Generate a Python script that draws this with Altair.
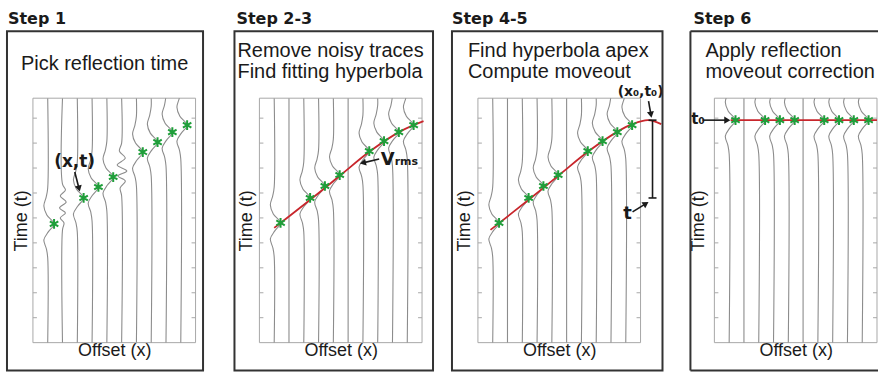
import math
import altair as alt
import pandas as pd

# ---------------- content ----------------
STEP_TITLES = ["Step 1", "Step 2-3", "Step 4-5", "Step 6"]
STEP_LINES = [
    ["Pick reflection time"],
    ["Remove noisy traces", "Find fitting hyperbola"],
    ["Find hyperbola apex", "Compute moveout"],
    ["Apply reflection", "moveout correction"],
]
X_TITLE = "Offset (x)"
Y_TITLE = "Time (t)"

TRACES = [1, 2, 3, 4, 5, 6, 7, 8, 9, 10]
# picked reflection times (s) per trace; None = no pick
PICKS_STEP1 = [1.06, None, 0.80, 0.69, 0.59, None, 0.34, 0.24, 0.14, 0.07]
PICKS_FIT = [1.05, None, 0.80, 0.68, 0.57, None, 0.33, 0.23, 0.14, 0.07]
PICKS_NMO = [0.02, None, 0.02, 0.02, 0.02, None, 0.02, 0.02, 0.02, 0.02]

# reflection wavelet (time shift from pick, trace-amplitude)
WAVELET_DT = [-0.36, -0.27, -0.18, -0.09, 0.0, 0.08, 0.16, 0.25, 0.34]
WAVELET_AMP = [0.0, -0.1, -0.26, -0.06, 0.43, 0.04, -0.26, -0.09, 0.0]

# noisy traces of step 1 (absolute time, amplitude)
NOISE_T = {2: [0.66, 0.72, 0.78, 0.84, 0.90, 0.95, 1.00, 1.05, 1.12],
           6: [0.25, 0.33, 0.40, 0.47, 0.53, 0.58, 0.63, 0.70, 0.78]}
NOISE_AMP = {2: [0.0, 0.2, -0.15, 0.25, -0.2, 0.2, -0.15, 0.1, 0.0],
             6: [0.0, -0.15, 0.25, -0.3, 0.35, -0.25, 0.25, -0.1, 0.0]}

# red curves
FIT_X = [1.0, 3.5, 5.5, 7.5, 9.5, 11.1]
FIT_T = [1.10, 0.81, 0.57, 0.33, 0.135, 0.03]
APEX_X = [0.85, 3.5, 5.5, 7.5, 9.5, 10.45, 11.5, 12.4]
APEX_T = [1.12, 0.81, 0.57, 0.33, 0.13, 0.06, 0.02, 0.06]
FLAT_X = [1.1, 11.0]
FLAT_T = [0.02, 0.02]

TIME_TICKS = [0.0, 0.25, 0.5, 0.75, 1.0, 1.25, 1.5, 1.75, 2.0]
T_RANGE = [-0.2, 2.25]
X_RANGE = [0, 11]

# ---------------- layout / style ----------------
FRAME_W, FRAME_H = 163, 245
SLOT_W = [227, 219, 237, 165]
PX_X = FRAME_W / (X_RANGE[1] - X_RANGE[0])
PX_T = FRAME_H / (T_RANGE[1] - T_RANGE[0])
INK = "#1a1a1a"
GREY = "#8c8c8c"
FRAME_GREY = "#a8a8a8"
RED = "#c8262c"
GREEN = "#1f9e3a"
PLAIN = "Liberation Sans"
BOLD = "DejaVu Sans"
STAR = "M0,-1L0,1M-0.87,-0.5L0.87,0.5M-0.87,0.5L0.87,-0.5"

STEP_POS = [(-25, -74), (-23, -74), (-26, -74), (-21, -74)]
LINE_POS = [[(-12, -28)], [(-22, -41), (-22, -20)], [(-10, -41), (-10, -20)], [(-9, -41), (-9, -20)]]
BOX_LR = [(-26, 170.5), (-25, 174), (-26, 185), (-24, None)]
BOX_TB = (-67, 273)
YTITLE_X = [-11.5, -12.5, -13.3, -16]

ONE = pd.DataFrame({"a": [0]})


def panel(i, picks, noisy, curve_x, curve_t, annots):
    W = SLOT_W[i]
    xmax = X_RANGE[1] * W / FRAME_W
    xsc = alt.Scale(domain=[X_RANGE[0], xmax], nice=False, zero=False)
    ysc = alt.Scale(domain=T_RANGE, reverse=True, nice=False, zero=False)
    xaxis = alt.Axis(
        title=X_TITLE, domain=False, ticks=False, labels=False, grid=False,
        titleFont=PLAIN, titleFontSize=18, titleFontWeight="normal", titleColor=INK,
        titleX=FRAME_W / 2, titleY=13, titleAlign="center", titleBaseline="alphabetic")
    yaxis = alt.Axis(
        title=Y_TITLE, domain=False, ticks=False, labels=False, grid=False,
        titleFont=PLAIN, titleFontSize=18, titleFontWeight="normal", titleColor=INK,
        titleX=YTITLE_X[i], titleY=FRAME_H / 2, titleAngle=270,
        titleAlign="center", titleBaseline="middle")

    def X(f):
        return alt.X(f, type="quantitative", scale=xsc, axis=xaxis)

    def Y(f):
        return alt.Y(f, type="quantitative", scale=ysc, axis=yaxis)

    layers = []
    # frame
    fdf = pd.DataFrame({"x": [X_RANGE[0]], "x2": [X_RANGE[1]], "t": [T_RANGE[0]], "t2": [T_RANGE[1]]})
    layers.append(alt.Chart(fdf).mark_rect(fillOpacity=0, stroke=FRAME_GREY, strokeWidth=1).encode(
        x=X("x"), x2="x2:Q", y=Y("t"), y2="t2:Q"))

    # inward time ticks on both sides
    tick_len = 4 / PX_X
    tdf = pd.DataFrame({
        "t": TIME_TICKS * 2,
        "x": [X_RANGE[0]] * len(TIME_TICKS) + [X_RANGE[1] - tick_len] * len(TIME_TICKS),
        "x2": [X_RANGE[0] + tick_len] * len(TIME_TICKS) + [X_RANGE[1]] * len(TIME_TICKS),
    })
    layers.append(alt.Chart(tdf).mark_rule(color=FRAME_GREY, strokeWidth=1).encode(
        x=X("x"), x2="x2:Q", y=Y("t")))

    # traces
    rows = []
    for k, p in zip(TRACES, picks):
        pts = [(k, T_RANGE[0])]
        if p is not None:
            for dt, a in zip(WAVELET_DT, WAVELET_AMP):
                pts.append((k + a, p + dt))
        elif noisy and k in NOISE_T:
            for tt, a in zip(NOISE_T[k], NOISE_AMP[k]):
                pts.append((k + a, tt))
        pts.append((k, T_RANGE[1]))
        if len(pts) > 2 and pts[1][1] < T_RANGE[0]:
            pts = pts[1:]
        for s, (x, t) in enumerate(pts):
            rows.append({"trace": k, "seq": s, "x": x, "t": t})
    trdf = pd.DataFrame(rows)
    layers.append(alt.Chart(trdf).mark_line(
        interpolate="catmull-rom", color=GREY, strokeWidth=1.1, clip=True).encode(
        x=X("x"), y=Y("t"), detail="trace:N", order="seq:Q"))

    # red curve
    if curve_x is not None:
        cdf = pd.DataFrame({"x": curve_x, "t": curve_t, "seq": list(range(len(curve_x)))})
        layers.append(alt.Chart(cdf).mark_line(
            interpolate="catmull-rom", color=RED, strokeWidth=1.8).encode(
            x=X("x"), y=Y("t"), order="seq:Q"))

    # picks (stars at the wavelet peak)
    peak = max(WAVELET_AMP)
    sdf = pd.DataFrame([{"x": k + peak, "t": p} for k, p in zip(TRACES, picks) if p is not None])
    layers.append(alt.Chart(sdf).mark_point(
        shape=STAR, size=95, filled=False, stroke=GREEN, strokeWidth=2, opacity=1).encode(
        x=X("x"), y=Y("t")))

    # annotations
    for a in annots:
        kind = a[0]
        if kind == "text":
            _, txt, x, t, size, align, base = a
            layers.append(alt.Chart(pd.DataFrame({"x": [x], "t": [t], "s": [txt]})).mark_text(
                font=BOLD, fontWeight="bold", fontSize=size, align=align, baseline=base,
                color=INK).encode(x=X("x"), y=Y("t"), text="s:N"))
        elif kind == "arrow":
            _, x0, t0, x1, t1 = a
            dx = (x1 - x0) * PX_X
            dy = (t1 - t0) * PX_T
            L = math.hypot(dx, dy)
            ux, uy = dx / L, dy / L
            ang = math.degrees(math.atan2(dx, -dy)) % 360
            hs = 50
            h = 0.433 * math.sqrt(hs)
            cx = x1 - ux * h / PX_X
            ct = t1 - uy * h / PX_T
            layers.append(alt.Chart(pd.DataFrame({"x": [x0], "t": [t0], "x2": [cx], "t2": [ct]})).mark_rule(
                color=INK, strokeWidth=1.6).encode(x=X("x"), y=Y("t"), x2="x2:Q", y2="t2:Q"))
            layers.append(alt.Chart(pd.DataFrame({"x": [cx], "t": [ct]})).mark_point(
                shape="triangle-up", filled=True, size=hs, angle=ang, color=INK, opacity=1).encode(
                x=X("x"), y=Y("t")))
        elif kind == "bracket":
            _, x, t0, t1 = a
            cap = 4 / PX_X
            layers.append(alt.Chart(pd.DataFrame({"x": [x], "t": [t0], "t2": [t1]})).mark_rule(
                color=INK, strokeWidth=1.6).encode(x=X("x"), y=Y("t"), y2="t2:Q"))
            layers.append(alt.Chart(pd.DataFrame({"x": [x - cap, x - cap], "x2": [x + cap, x + cap],
                                                  "t": [t0, t1]})).mark_rule(
                color=INK, strokeWidth=1.6).encode(x=X("x"), x2="x2:Q", y=Y("t")))

    # header texts
    sx, sy = STEP_POS[i]
    layers.append(alt.Chart(ONE).mark_text(
        text=STEP_TITLES[i], font=BOLD, fontWeight="bold", fontSize=16, align="left",
        baseline="alphabetic", color=INK).encode(x=alt.value(sx), y=alt.value(sy)))
    for line, (lx, ly) in zip(STEP_LINES[i], LINE_POS[i]):
        layers.append(alt.Chart(ONE).mark_text(
            text=line, font=PLAIN, fontSize=20, align="left", baseline="alphabetic",
            color=INK).encode(x=alt.value(lx), y=alt.value(ly)))

    # outer box
    bl, br = BOX_LR[i]
    bt, bb = BOX_TB
    if br is not None:
        layers.append(alt.Chart(ONE).mark_rect(fillOpacity=0, stroke="#333333", strokeWidth=2).encode(
            x=alt.value(bl), x2=alt.value(br), y=alt.value(bt), y2=alt.value(bb)))
    else:
        right = W - 1
        layers.append(alt.Chart(ONE).mark_rule(color="#333333", strokeWidth=2).encode(
            x=alt.value(bl), y=alt.value(bt), y2=alt.value(bb)))
        layers.append(alt.Chart(ONE).mark_rule(color="#333333", strokeWidth=2).encode(
            x=alt.value(bl), x2=alt.value(right), y=alt.value(bt)))
        layers.append(alt.Chart(ONE).mark_rule(color="#333333", strokeWidth=2).encode(
            x=alt.value(bl), x2=alt.value(right), y=alt.value(bb)))

    # invisible anchors fixing the figure extent
    if i == 0:
        layers.append(alt.Chart(ONE).mark_rect(color="white").encode(
            x=alt.value(-33), x2=alt.value(-32), y=alt.value(-98), y2=alt.value(-97)))
    if i == 3:
        layers.append(alt.Chart(ONE).mark_rect(color="white").encode(
            x=alt.value(W - 1), x2=alt.value(W), y=alt.value(274), y2=alt.value(275)))

    return alt.layer(*layers).properties(width=W, height=FRAME_H)


ANN1 = [("text", "(x,t)", 2.82, 0.44, 17, "center", "middle"),
        ("arrow", 2.83, 0.54, 3.17, 0.735)]
ANN2 = [("text", "V", 8.2, 0.47, 18, "left", "alphabetic"),
        ("text", "rms", 9.15, 0.47, 11, "left", "alphabetic"),
        ("arrow", 8.1, 0.41, 6.8, 0.455)]
ANN3 = [("text", "(x\u2080,t\u2080)", 9.45, -0.26, 14, "left", "middle"),
        ("arrow", 11.54, -0.17, 11.74, -0.005),
        ("bracket", 11.81, 0.02, 0.80),
        ("text", "t", 10.12, 0.96, 18, "center", "middle"),
        ("arrow", 10.46, 0.94, 11.54, 0.84)]
ANN4 = [("text", "t\u2080", -1.57, 0.01, 15, "left", "middle"),
        ("arrow", -0.8, 0.02, 1.08, 0.02)]

p1 = panel(0, PICKS_STEP1, True, None, None, ANN1)
p2 = panel(1, PICKS_FIT, False, FIT_X, FIT_T, ANN2)
p3 = panel(2, PICKS_FIT, False, APEX_X, APEX_T, ANN3)
p4 = panel(3, PICKS_NMO, False, FLAT_X, FLAT_T, ANN4)

chart = alt.hconcat(p1, p2, p3, p4, spacing=0, bounds="flush").properties(
    padding=0).configure_view(stroke=None)

chart.save("out.html", embed_options={"renderer": "svg", "actions": False})
